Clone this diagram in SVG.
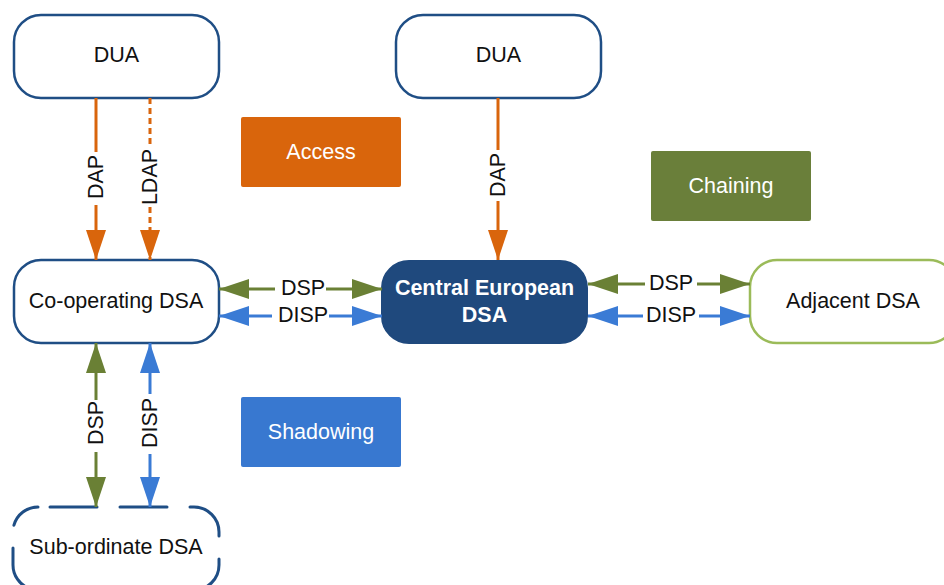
<svg xmlns="http://www.w3.org/2000/svg" width="944" height="585" viewBox="0 0 944 585">
  <style>
    text { font-family: "Liberation Sans", Arial, sans-serif; font-size: 21.5px; fill: #111; text-anchor: middle; dominant-baseline: central; }
    .node { fill: #ffffff; stroke: #1f4e85; stroke-width: 2.5; }
    .sub { fill: #ffffff; stroke: #1f4e85; stroke-width: 3; stroke-dasharray: 47 23; stroke-dashoffset: 58; stroke-linecap: round; }
    .central { fill: #1f497d; stroke: #1f497d; stroke-width: 2; }
    .central-text { fill: #ffffff; font-weight: bold; }
    .adjacent { fill: #ffffff; stroke: #9bbb59; stroke-width: 2.5; }
    .legend-text { fill: #ffffff; }
    .orange { stroke: #d9650c; stroke-width: 3; fill: none; }
    .dashed { stroke-dasharray: 6 4; }
    .green { stroke: #6a8035; stroke-width: 3; fill: none; }
    .blue { stroke: #3a7bd5; stroke-width: 3; fill: none; }
  </style>
  <defs>
    <marker id="arrow-orange" markerUnits="userSpaceOnUse" markerWidth="30" markerHeight="20" refX="30" refY="10" orient="auto-start-reverse" viewBox="0 0 30 20">
      <path d="M0,0 L30,10 L0,20 Z" fill="#d9650c"/>
    </marker>
    <marker id="arrow-green" markerUnits="userSpaceOnUse" markerWidth="30" markerHeight="20" refX="30" refY="10" orient="auto-start-reverse" viewBox="0 0 30 20">
      <path d="M0,0 L30,10 L0,20 Z" fill="#6a8035"/>
    </marker>
    <marker id="arrow-blue" markerUnits="userSpaceOnUse" markerWidth="30" markerHeight="20" refX="30" refY="10" orient="auto-start-reverse" viewBox="0 0 30 20">
      <path d="M0,0 L30,10 L0,20 Z" fill="#3a7bd5"/>
    </marker>
  </defs>

  <rect width="944" height="585" fill="#ffffff"/>

  <!-- legend -->
  <g id="legend-access">
    <rect x="241" y="117" width="160" height="70" rx="2" fill="#d9650c"/>
    <text class="legend-text" x="321" y="152">Access</text>
  </g>
  <g id="legend-chaining">
    <rect x="651" y="151" width="160" height="70" rx="2" fill="#6a7f3a"/>
    <text class="legend-text" x="731" y="186">Chaining</text>
  </g>
  <g id="legend-shadowing">
    <rect x="241" y="397" width="160" height="70" rx="2" fill="#3878d0"/>
    <text class="legend-text" x="321" y="432">Shadowing</text>
  </g>

  <!-- nodes -->
  <g id="dua-left">
    <rect class="node" x="14" y="15" width="205" height="83" rx="27"/>
    <text x="116.5" y="55">DUA</text>
  </g>
  <g id="dua-right">
    <rect class="node" x="396" y="15" width="205" height="83" rx="27"/>
    <text x="498.5" y="55">DUA</text>
  </g>
  <g id="cooperating-dsa">
    <rect class="node" x="14" y="260" width="205" height="83" rx="27"/>
    <text x="116" y="301">Co-operating DSA</text>
  </g>
  <g id="central-dsa">
    <rect class="central" x="382" y="261" width="205" height="82" rx="27"/>
    <text class="central-text" x="484.5" y="288">Central European</text>
    <text class="central-text" x="484.5" y="315">DSA</text>
  </g>
  <g id="adjacent-dsa">
    <rect class="adjacent" x="750" y="260" width="206" height="83" rx="27"/>
    <text x="853" y="301">Adjacent DSA</text>
  </g>
  <g id="subordinate-dsa">
    <rect class="sub" x="13" y="507" width="206" height="83" rx="25"/>
    <text x="116" y="547">Sub-ordinate DSA</text>
  </g>

  <!-- connectors -->
  <g id="connectors">
    <!-- access: DUA to co-operating DSA -->
    <path class="orange" d="M96,98 V152"/>
    <path class="orange" d="M96,205 V260" marker-end="url(#arrow-orange)"/>
    <text x="96" y="177" transform="rotate(-90 96 177)">DAP</text>

    <path class="orange dashed" d="M150,98 V145"/>
    <path class="orange dashed" d="M150,207 V260" marker-end="url(#arrow-orange)"/>
    <text x="150" y="177" transform="rotate(-90 150 177)">LDAP</text>

    <!-- access: DUA to central DSA -->
    <path class="orange" d="M498,98 V150"/>
    <path class="orange" d="M498,201 V260" marker-end="url(#arrow-orange)"/>
    <text x="498" y="175" transform="rotate(-90 498 175)">DAP</text>

    <!-- co-operating DSA to central DSA -->
    <path class="green" d="M275,289 H219" marker-end="url(#arrow-green)"/>
    <path class="green" d="M326,289 H382" marker-end="url(#arrow-green)"/>
    <text x="303" y="288">DSP</text>
    <path class="blue" d="M272,316 H219" marker-end="url(#arrow-blue)"/>
    <path class="blue" d="M329,316 H382" marker-end="url(#arrow-blue)"/>
    <text x="303" y="315">DISP</text>

    <!-- central DSA to adjacent DSA -->
    <path class="green" d="M645,284 H588" marker-end="url(#arrow-green)"/>
    <path class="green" d="M697,284 H750" marker-end="url(#arrow-green)"/>
    <text x="671" y="283">DSP</text>
    <path class="blue" d="M643,316 H588" marker-end="url(#arrow-blue)"/>
    <path class="blue" d="M699,316 H750" marker-end="url(#arrow-blue)"/>
    <text x="671" y="315">DISP</text>

    <!-- co-operating DSA to sub-ordinate DSA -->
    <path class="green" d="M96,400 V343" marker-end="url(#arrow-green)"/>
    <path class="green" d="M96,452 V507" marker-end="url(#arrow-green)"/>
    <text x="96" y="423" transform="rotate(-90 96 423)">DSP</text>
    <path class="blue" d="M150,394 V343" marker-end="url(#arrow-blue)"/>
    <path class="blue" d="M150,454 V507" marker-end="url(#arrow-blue)"/>
    <text x="150" y="423" transform="rotate(-90 150 423)">DISP</text>
  </g>
</svg>
